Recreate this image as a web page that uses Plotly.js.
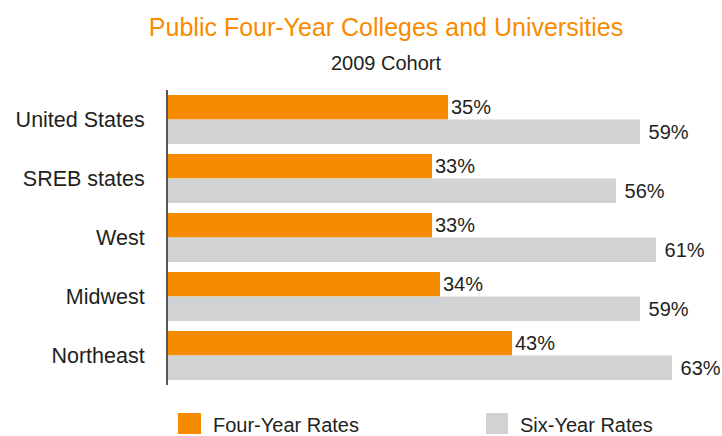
<!DOCTYPE html>
<html>
<head>
<meta charset="utf-8">
<script src="https://cdn.plot.ly/plotly-3.0.1.min.js"></script>
<style>
  html, body { margin: 0; padding: 0; background: #fff; }
  #chart { width: 722px; height: 436px; }
</style>
</head>
<body>
<div id="chart"></div>
<script>
const categories = ["United States", "SREB states", "West", "Midwest", "Northeast"];
const fourYearRates = [35, 33, 33, 34, 43];
const sixYearRates = [59, 56, 61, 59, 63];
const seriesNames = ["Four-Year Rates", "Six-Year Rates"];
const chartTitle = "Public Four-Year Colleges and Universities";
const chartSubtitle = "2009 Cohort";

const FONT = '"Liberation Sans", Arial, Helvetica, sans-serif';
const ORANGE = '#F78B00';
const GRAY = '#D1D2D4';
const TEXT = '#231F20';

const traces = [
  {
    type: 'bar', orientation: 'h', name: seriesNames[0],
    y: categories, x: fourYearRates,
    marker: { color: ORANGE },
    texttemplate: '%{x}%', textposition: 'outside', constraintext: 'none',
    cliponaxis: false,
    textfont: { family: FONT, size: 20, color: TEXT },
    hoverinfo: 'x+y'
  },
  {
    type: 'bar', orientation: 'h', name: seriesNames[1],
    y: categories, x: sixYearRates,
    marker: { color: GRAY },
    texttemplate: ' %{x}%', textposition: 'outside', constraintext: 'none',
    cliponaxis: false,
    textfont: { family: FONT, size: 20, color: TEXT },
    hoverinfo: 'x+y'
  }
];

// legend drawn as paper-referenced swatches + labels
const legendX = [[0.0184, 0.0607], [0.5846, 0.625]];
const shapes = seriesNames.map((n, i) => ({
  type: 'rect', xref: 'paper', yref: 'paper',
  x0: legendX[i][0], x1: legendX[i][1], y0: -0.0949, y1: -0.1661,
  fillcolor: i === 0 ? ORANGE : GRAY, line: { width: 0 }
}));
const legendAnn = seriesNames.map((n, i) => ({
  text: n, xref: 'paper', yref: 'paper',
  x: legendX[i][1] + 0.018, y: -0.1356, xanchor: 'left', yanchor: 'middle',
  showarrow: false, font: { family: FONT, size: 20, color: TEXT }
}));

const layout = {
  width: 722, height: 436,
  margin: { l: 168, r: 10, t: 90, b: 51 },
  paper_bgcolor: '#fff', plot_bgcolor: '#fff',
  font: { family: FONT, color: TEXT },
  title: {
    text: chartTitle,
    font: { family: FONT, size: 25, color: ORANGE },
    xref: 'container', yref: 'container',
    x: 386 / 722, xanchor: 'center',
    y: 1 - 27 / 436, yanchor: 'middle'
  },
  barmode: 'group', bargap: 0.17, bargroupgap: 0,
  showlegend: false,
  xaxis: { range: [0, 68], visible: false, fixedrange: true },
  yaxis: {
    autorange: 'reversed',
    showline: true, linecolor: '#58595B', linewidth: 2,
    showgrid: false, zeroline: false, ticks: '',
    ticklabelstandoff: 17,
    tickfont: { family: FONT, size: 21.5, color: TEXT },
    fixedrange: true
  },
  shapes: shapes,
  annotations: [
    {
      text: chartSubtitle, xref: 'paper', yref: 'paper',
      x: (386 - 168) / 544, y: 1 + (90 - 62.5) / 295,
      xanchor: 'center', yanchor: 'middle', showarrow: false,
      font: { family: FONT, size: 20, color: TEXT }
    }
  ].concat(legendAnn)
};

Plotly.newPlot('chart', traces, layout, { displayModeBar: false, staticPlot: true });
</script>
</body>
</html>
